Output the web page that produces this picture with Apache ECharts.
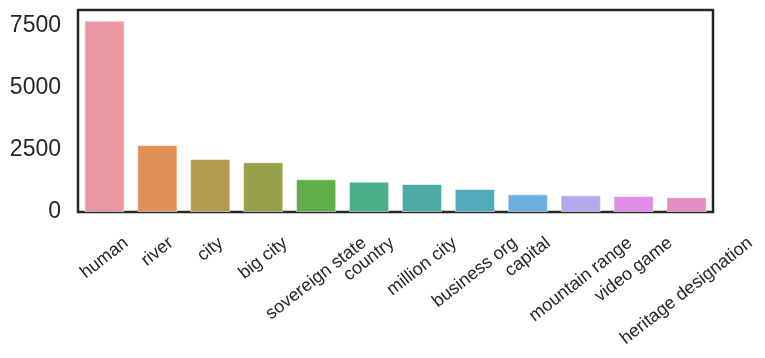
<!DOCTYPE html>
<html>
<head>
<meta charset="utf-8">
<script src="https://cdn.jsdelivr.net/npm/echarts@6/dist/echarts.min.js"></script>
<style>
html,body{margin:0;padding:0;background:#fff;}
#chart{width:765px;height:358px;}
</style>
</head>
<body>
<div id="chart"></div>
<script>
const categories = ['human','river','city','big city','sovereign state','country','million city','business org','capital','mountain range','video game','heritage designation'];
const counts = [7690, 2690, 2130, 2000, 1315, 1220, 1125, 925, 710, 670, 645, 590];
const barColors = ['#ea96a3','#e19158','#b69a4d','#99a24b','#60ae4a','#4aae89','#4ea9a5','#51a9bc','#6caee0','#b6a7ea','#de8ee6','#e88dc2'];
const yTicks = [0, 2500, 5000, 7500];

const FONT = '"Liberation Sans", Arial, Helvetica, sans-serif';
const LABEL_SIZE = 18;
const ROT = 38;
const ANG = ROT * Math.PI / 180;
const ctx = document.createElement('canvas').getContext('2d');
ctx.font = LABEL_SIZE + 'px ' + FONT;
const rich = {};
categories.forEach((c, i) => {
  const w = ctx.measureText(c).width;
  const s = Math.sin(ANG), co = Math.cos(ANG);
  rich['t' + i] = {
    fontFamily: FONT, fontSize: LABEL_SIZE, color: '#262626',
    padding: [w * s * co, w * s * s, 0, 0]
  };
});

const chart = echarts.init(document.getElementById('chart'), null, {renderer: 'canvas'});
chart.setOption({
  animation: false,
  backgroundColor: '#fff',
  grid: {left: 78, right: 52, top: 10, bottom: 146, show: true, borderColor: '#262626', borderWidth: 2.5, containLabel: false},
  xAxis: {
    type: 'category',
    data: categories,
    axisLine: {show: false},
    axisTick: {show: false},
    splitLine: {show: false},
    axisLabel: {
      interval: 0,
      rotate: ROT,
      align: 'center',
      verticalAlign: 'middle',
      margin: 29,
      fontFamily: FONT,
      fontSize: LABEL_SIZE,
      color: '#262626',
      formatter: (v, idx) => '{t' + idx + '|' + v + '}',
      rich: rich
    }
  },
  yAxis: {
    type: 'value',
    min: 0,
    max: 8120,
    interval: 2500,
    axisLine: {show: false},
    axisTick: {show: false},
    splitLine: {show: false},
    axisLabel: {
      margin: 17,
      fontFamily: FONT,
      fontSize: 23,
      color: '#262626',
      formatter: v => (yTicks.indexOf(v) >= 0 ? String(v) : '')
    }
  },
  series: [{
    type: 'bar',
    data: counts.map((v, i) => ({value: v, itemStyle: {color: barColors[i]}})),
    barWidth: '76%',
    itemStyle: {borderColor: 'rgba(255,255,255,0.5)', borderWidth: 1}
  }]
});
</script>
</body>
</html>
